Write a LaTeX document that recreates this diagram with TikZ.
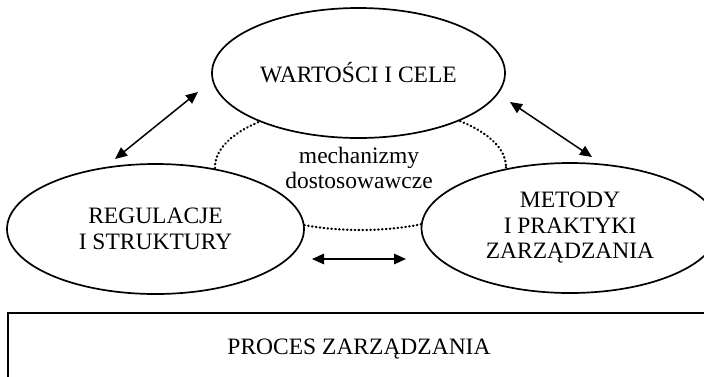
\documentclass[tikz,border=0pt]{standalone}
\usepackage{fontspec}
\setmainfont{Liberation Serif}
\usetikzlibrary{shapes.geometric,arrows.meta}
\tikzset{
  bubble/.style={ellipse, draw, fill=white, line width=1.7pt, inner sep=0pt,
    minimum height=130pt, align=center, font=\fontsize{23.5}{25.5}\selectfont},
  dotarc/.style={line width=2.3pt, line cap=round, dash pattern=on 0.5pt off 3.4pt},
  twoway/.style={line width=1.5pt, {Triangle[length=12pt,width=10.5pt]}-{Triangle[length=12pt,width=10.5pt]}},
  frame/.style={line width=1.5pt},
  lbl/.style={font=\fontsize{23.5}{25.5}\selectfont, align=center, inner sep=0pt}
}
\begin{document}
\begin{tikzpicture}[x=1pt,y=-1pt]
\useasboundingbox (0,0) rectangle (704,376);
\clip (0,0) rectangle (704,376);
\fill[white] (0,0) rectangle (704,376);
% dotted ellipse of adaptive mechanisms (partially hidden)
\draw[dotarc] (360.5,167) ellipse [x radius=145.5, y radius=63];
% main ellipses
\node[bubble, minimum width=293pt] (wc) at (358.5,73) {WARTOŚCI I CELE};
\node[bubble, minimum width=297pt] (rs) at (155.5,229) {REGULACJE\\I STRUKTURY};
\node[bubble, minimum width=297pt] (mp) at (570,228) {METODY\\I PRAKTYKI\\ZARZĄDZANIA};
\node[lbl] (mech) at (359,168) {mechanizmy\\dostosowawcze};
% arrows
\coordinate (a1) at (198,92);
\coordinate (a2) at (115,159);
\coordinate (b1) at (510,102);
\coordinate (b2) at (592,157);
\coordinate (c1) at (312,259);
\coordinate (c2) at (406,259);
\draw[twoway] (a1) -- (a2);
\draw[twoway] (b1) -- (b2);
\draw[twoway] (c1) -- (c2);
% process box
\draw[frame] (8,390) -- (8,313) -- (720,313);
\node[lbl] (proc) at (359,349) {PROCES ZARZĄDZANIA};
\end{tikzpicture}
\end{document}
